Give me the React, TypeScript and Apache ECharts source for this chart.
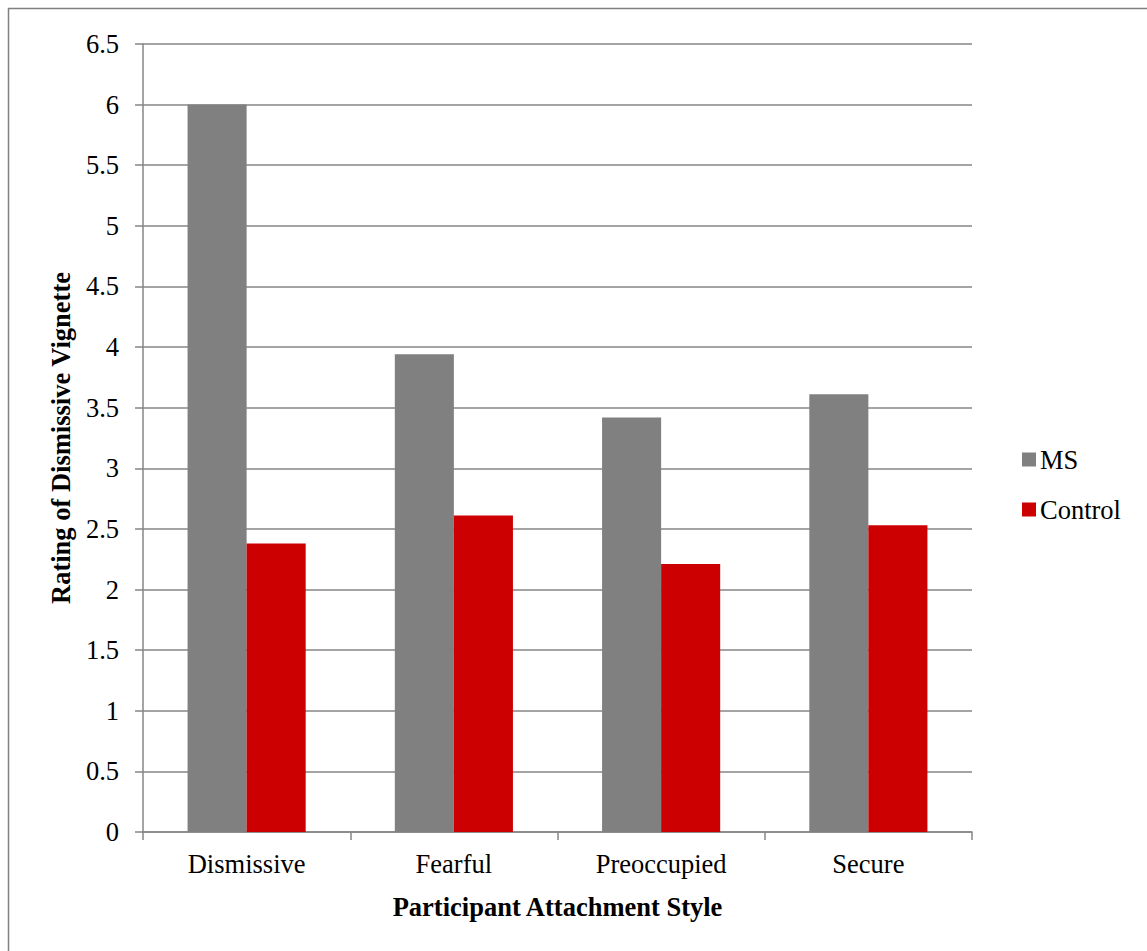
import React, { useEffect, useRef } from "react";
import * as echarts from "echarts";

const categories = ["Dismissive", "Fearful", "Preoccupied", "Secure"];
const msValues = [6.0, 3.94, 3.42, 3.61];
const controlValues = [2.38, 2.61, 2.21, 2.53];
const seriesNames = ["MS", "Control"];

export default function App() {
  const ref = useRef<HTMLDivElement>(null);
  useEffect(() => {
    document.body.style.margin = "0";
    const chart = echarts.init(ref.current!, null, { renderer: "svg" });
    const font = "Liberation Serif";
    const fs = 26.5;
    const axisGray = "#868686";
    chart.setOption({
      animation: false,
      backgroundColor: "#ffffff",
      textStyle: { fontFamily: font },
      graphic: [
        {
          type: "rect",
          shape: { x: 8.5, y: 8.5, width: 1140, height: 945 },
          style: { fill: "none", stroke: "#808080", lineWidth: 1.5 },
          silent: true,
        },
      ],
      grid: { left: 143, top: 44, width: 829, height: 788 },
      legend: {
        orient: "vertical",
        left: 1017,
        top: 441,
        itemWidth: 14,
        itemHeight: 14,
        itemGap: 23,
        icon: "rect",
        textStyle: { fontFamily: font, fontSize: fs, color: "#000", padding: [0, 0, 0, -1] },
        data: seriesNames,
      },
      xAxis: {
        type: "category",
        data: categories,
        name: "Participant Attachment Style",
        nameLocation: "middle",
        nameGap: 61,
        nameTextStyle: { fontFamily: font, fontSize: fs, fontWeight: "bold", color: "#000" },
        axisLine: { lineStyle: { color: axisGray, width: 1.5 } },
        axisTick: { show: true, length: 8, lineStyle: { color: axisGray, width: 1.5 } },
        axisLabel: { fontFamily: font, fontSize: fs, color: "#000", margin: 18 },
      },
      yAxis: {
        type: "value",
        min: 0,
        max: 6.5,
        interval: 0.5,
        name: "Rating of Dismissive Vignette",
        nameLocation: "middle",
        nameGap: 67,
        nameTextStyle: { fontFamily: font, fontSize: fs, fontWeight: "bold", color: "#000" },
        axisLine: { show: true, lineStyle: { color: axisGray, width: 1.5 } },
        axisTick: { show: true, length: 8, lineStyle: { color: axisGray, width: 1.5 } },
        splitLine: { show: true, lineStyle: { color: axisGray, width: 1.5 } },
        axisLabel: { fontFamily: font, fontSize: fs, color: "#000", margin: 24 },
      },
      series: [
        {
          name: seriesNames[0],
          type: "bar",
          data: msValues,
          itemStyle: { color: "#808080" },
          barGap: "0%",
          barCategoryGap: "43%",
        },
        {
          name: seriesNames[1],
          type: "bar",
          data: controlValues,
          itemStyle: { color: "#CC0000" },
          barGap: "0%",
          barCategoryGap: "43%",
        },
      ],
    });
    return () => chart.dispose();
  }, []);
  return <div ref={ref} style={{ width: 1147, height: 951 }} />;
}
